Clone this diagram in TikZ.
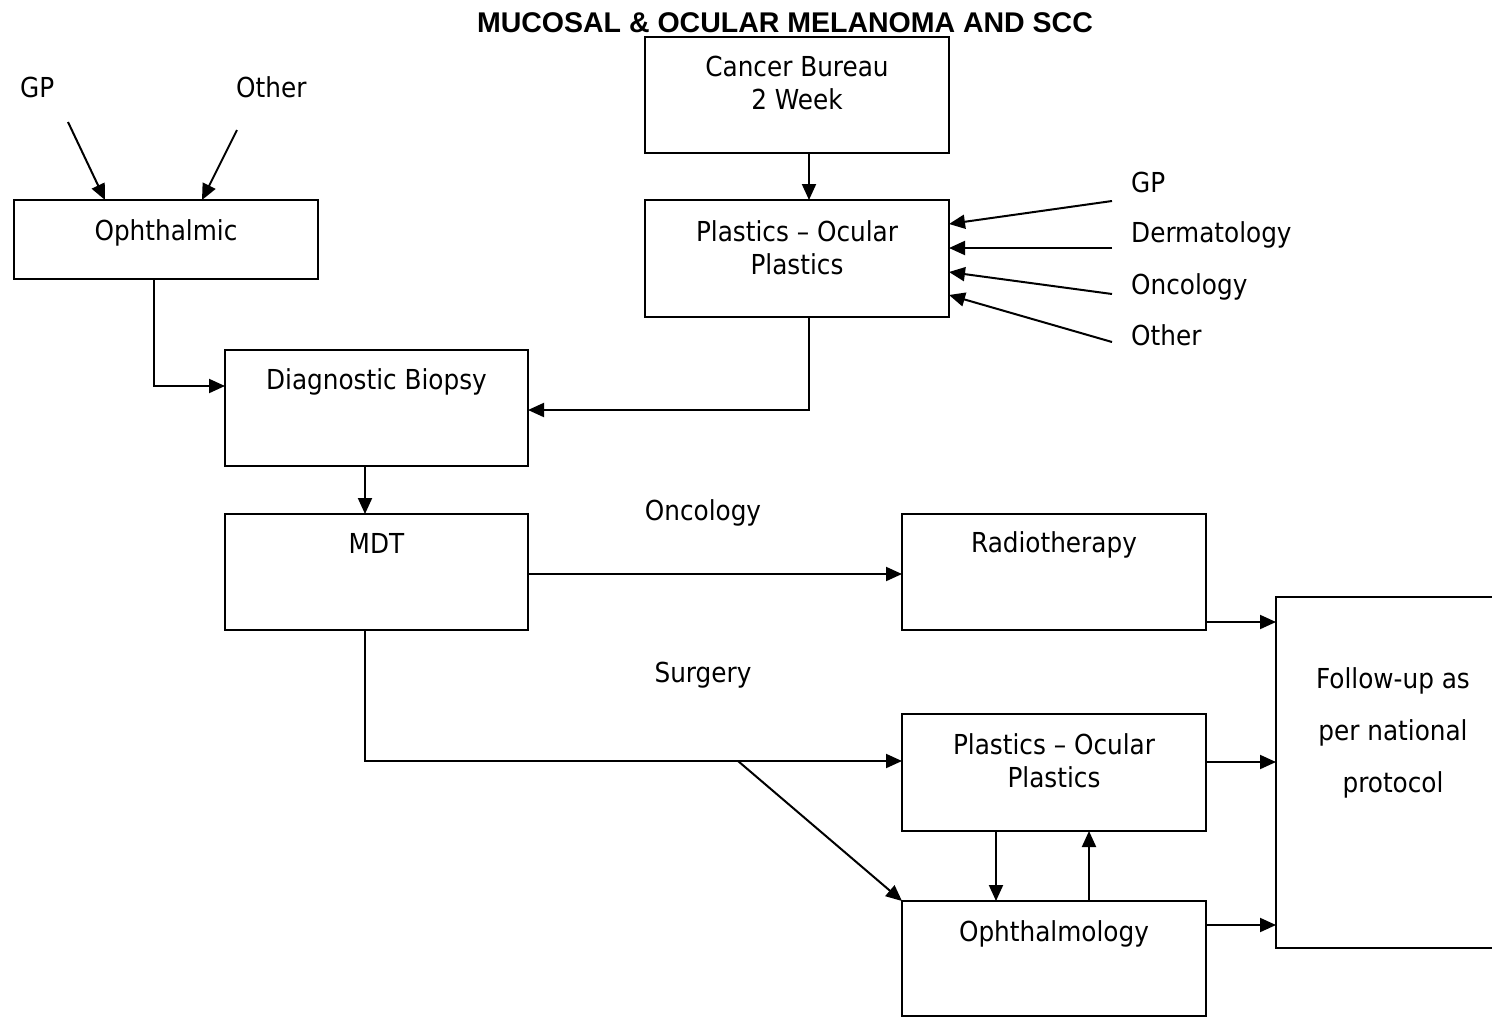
\documentclass[tikz,border=0pt]{standalone}
\usepackage{fontspec}
\setmainfont{DejaVu Sans Condensed}
\newfontfamily\titlefont{Liberation Sans}
\usetikzlibrary{arrows.meta}

\begin{document}
\begin{tikzpicture}[x=1pt,y=-1pt,
  box/.style={draw, line width=2pt, rectangle, inner sep=0pt, outer sep=0pt},
  txt/.style={anchor=base, inner sep=0pt, font=\fontsize{27.5}{33}\selectfont, align=center},
  lbl/.style={anchor=base west, inner sep=0pt, font=\fontsize{27.5}{33}\selectfont},
  arr/.style={line width=2pt, -{Triangle[length=16pt,width=14pt]}}]

\useasboundingbox (0,0) rectangle (1492,1018);

% title
\node[anchor=base, inner sep=0pt, font=\titlefont\bfseries\fontsize{28.5}{34}\selectfont] (title) at (785,32) {MUCOSAL \& OCULAR MELANOMA AND SCC};

% boxes
\node[box, minimum width=304pt, minimum height=79pt]  (oph)  at (166,239.5) {};
\node[box, minimum width=304pt, minimum height=116pt] (cb)   at (797,95) {};
\node[box, minimum width=304pt, minimum height=117pt] (po1)  at (797,258.5) {};
\node[box, minimum width=303pt, minimum height=116pt] (db)   at (376.5,408) {};
\node[box, minimum width=303pt, minimum height=116pt] (mdt)  at (376.5,572) {};
\node[box, minimum width=304pt, minimum height=116pt] (rt)   at (1054,572) {};
\node[box, minimum width=304pt, minimum height=117pt] (po2)  at (1054,772.5) {};
\node[box, minimum width=304pt, minimum height=115pt] (ophm) at (1054,958.5) {};
\node[box, minimum width=234pt, minimum height=351pt] (fu)   at (1393,772.5) {};

% box texts (multi-line texts are placed by the baseline of their last line)
\node[txt] (tOph)  at (166,240) {Ophthalmic};
\node[txt] (tCb)   at (797,109) {Cancer Bureau\\2 Week};
\node[txt] (tPo1)  at (797,274) {Plastics – Ocular\\Plastics};
\node[txt] (tDb)   at (376.5,389) {Diagnostic Biopsy};
\node[txt] (tMdt)  at (376.5,553) {MDT};
\node[txt] (tRt)   at (1054,552) {Radiotherapy};
\node[txt] (tPo2)  at (1054,787) {Plastics – Ocular\\Plastics};
\node[txt] (tOphm) at (1054,941) {Ophthalmology};
\node[txt, font=\fontsize{27.5}{52}\selectfont] (tFu) at (1393,792) {Follow-up as\\per national\\protocol};

% free labels
\node[lbl] (gpL)    at (20,97) {GP};
\node[lbl] (otherL) at (236,97) {Other};
\node[lbl] (gpR)    at (1131,192) {GP};
\node[lbl] (derm)   at (1131,242) {Dermatology};
\node[lbl] (oncR)   at (1131,294) {Oncology};
\node[lbl] (otherR) at (1131,345) {Other};
\node[txt] (onc)    at (703,520) {Oncology};
\node[txt] (surg)   at (703,682) {Surgery};

% connector start points
\coordinate (sGpL)    at (68,122);
\coordinate (sOtherL) at (237,130);
\coordinate (sGpR)    at (1112,201);
\coordinate (sDerm)   at (1112,248);
\coordinate (sOncR)   at (1112,294);
\coordinate (sOtherR) at (1112,342);
\coordinate (split)   at (738,761);

% referrals into Ophthalmic
\draw[arr] (sGpL) -- ([xshift=91pt]oph.north west);
\draw[arr] (sOtherL) -- ([xshift=188pt]oph.north west);

% referrals into Plastics - Ocular Plastics
\draw[arr] (sGpR) -- ([yshift=34.5pt]po1.east);
\draw[arr] (sDerm) -- ([yshift=10.5pt]po1.east);
\draw[arr] (sOncR) -- ([yshift=-13.5pt]po1.east);
\draw[arr] (sOtherR) -- ([yshift=-36.5pt]po1.east);

% main pathway
\draw[arr] ([xshift=12pt]cb.south) -- ([xshift=12pt]po1.north);
\draw[arr] ([xshift=140pt]oph.south west) |- ([yshift=22pt]db.west);
\draw[arr] ([xshift=12pt]po1.south) |- ([yshift=-2pt]db.east);
\draw[arr] ([xshift=-11.5pt]db.south) -- ([xshift=-11.5pt]mdt.north);
\draw[arr] ([yshift=-2pt]mdt.east) -- ([yshift=-2pt]rt.west);
\draw[arr] ([xshift=-11.5pt]mdt.south) |- ([yshift=11.5pt]po2.west);
\draw[arr] (split) -- (ophm.north west);
\draw[arr] ([xshift=-58pt]po2.south) -- ([xshift=-58pt]ophm.north);
\draw[arr] ([xshift=35pt]ophm.north) -- ([xshift=35pt]po2.south);

% into follow-up
\draw[arr] ([yshift=-50pt]rt.east) -- ([yshift=-50pt]rt.east -| fu.west);
\draw[arr] ([yshift=10.5pt]po2.east) -- ([yshift=10.5pt]po2.east -| fu.west);
\draw[arr] ([yshift=33.5pt]ophm.east) -- ([yshift=33.5pt]ophm.east -| fu.west);

\end{tikzpicture}
\end{document}
